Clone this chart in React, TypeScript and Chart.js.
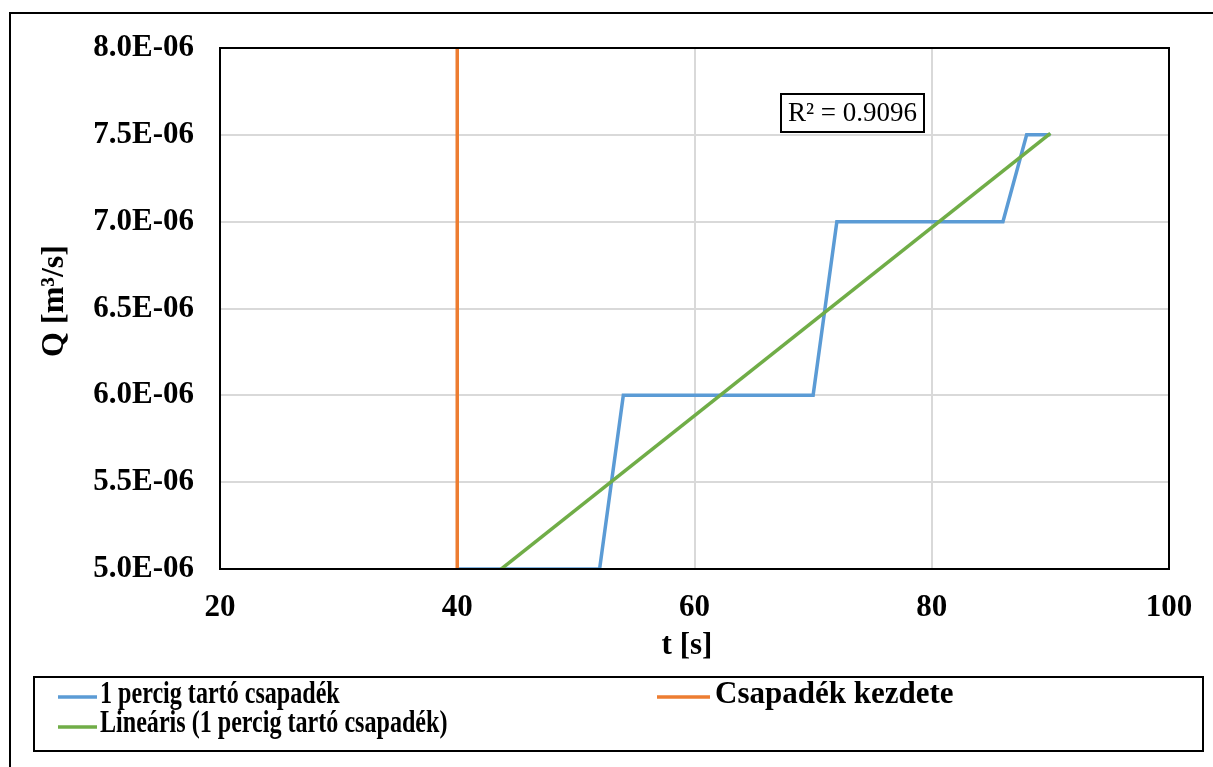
import { useEffect, useRef } from 'react';
import { Chart, registerables } from 'chart.js';

Chart.register(...registerables);

// Measured discharge during a one-minute rain event (sampled every 2 s)
const times = [40, 42, 44, 46, 48, 50, 52, 54, 56, 58, 60, 62, 64, 66, 68, 70, 72, 74, 76, 78, 80, 82, 84, 86, 88, 90];
const flow = [
  5.0e-6, 5.0e-6, 5.0e-6, 5.0e-6, 5.0e-6, 5.0e-6, 5.0e-6,
  6.0e-6, 6.0e-6, 6.0e-6, 6.0e-6, 6.0e-6, 6.0e-6, 6.0e-6, 6.0e-6, 6.0e-6,
  7.0e-6, 7.0e-6, 7.0e-6, 7.0e-6, 7.0e-6, 7.0e-6, 7.0e-6, 7.0e-6,
  7.5e-6, 7.5e-6,
];

// Vertical marker for the start of the rain
const onsetTimes = [40, 40];
const onsetFlow = [5.0e-6, 8.0e-6];

const xTicks = [20, 40, 60, 80, 100];
const yTicks = [5.0e-6, 5.5e-6, 6.0e-6, 6.5e-6, 7.0e-6, 7.5e-6, 8.0e-6];

const seriesNames = ['1 percig tartó csapadék', 'Csapadék kezdete', 'Lineáris (1 percig tartó csapadék)'];
const colors = ['#5B9BD5', '#ED7D31', '#70AD47'];
const r2Label = 'R² = 0.9096';
const xTitle = 't [s]';
const yTitle = 'Q [m³/s]';

const FONT = '"Liberation Serif", "Times New Roman", serif';

function linearFit(xs: number[], ys: number[]) {
  const n = xs.length;
  const mx = xs.reduce((a, b) => a + b, 0) / n;
  const my = ys.reduce((a, b) => a + b, 0) / n;
  let sxy = 0;
  let sxx = 0;
  for (let i = 0; i < n; i++) {
    sxy += (xs[i] - mx) * (ys[i] - my);
    sxx += (xs[i] - mx) * (xs[i] - mx);
  }
  const slope = sxy / sxx;
  return { slope, intercept: my - slope * mx };
}

function sciLabel(v: number) {
  const [m, e] = v.toExponential(1).split('e');
  const exp = parseInt(e, 10);
  const sign = exp < 0 ? '-' : '+';
  return `${m}E${sign}${String(Math.abs(exp)).padStart(2, '0')}`;
}

const fit = linearFit(times, flow);
const trendTimes = [times[0], times[times.length - 1]];

const framePlugin = {
  id: 'frame',
  beforeDraw(chart: any) {
    const { ctx, width, height } = chart;
    ctx.save();
    ctx.fillStyle = '#ffffff';
    ctx.fillRect(0, 0, width, height);
    ctx.restore();
  },
  afterDraw(chart: any) {
    const { ctx, chartArea } = chart;
    ctx.save();
    ctx.strokeStyle = '#000000';
    ctx.lineWidth = 2;
    // outer frame
    ctx.strokeRect(10, 13, 1230, 800);
    // plot area frame
    ctx.strokeRect(chartArea.left, chartArea.top, chartArea.right - chartArea.left, chartArea.bottom - chartArea.top);

    // axis titles
    ctx.fillStyle = '#000000';
    ctx.font = `bold 31px ${FONT}`;
    ctx.textAlign = 'center';
    ctx.textBaseline = 'alphabetic';
    ctx.fillText(xTitle, 687, 654);
    ctx.save();
    ctx.translate(63, 301);
    ctx.rotate(-Math.PI / 2);
    ctx.font = `bold 32px ${FONT}`;
    ctx.fillText(yTitle, 0, 0);
    ctx.restore();

    // R² label of the trend line
    ctx.lineWidth = 2;
    ctx.strokeRect(781, 94, 143, 38);
    ctx.font = `27px ${FONT}`;
    ctx.textAlign = 'center';
    ctx.textBaseline = 'middle';
    ctx.fillText(r2Label, 852.5, 114);

    // legend
    ctx.strokeRect(34, 677, 1169, 74);
    ctx.lineWidth = 3.5;
    const rows = [
      { i: 0, x0: 58, x1: 97, tx: 100, ly: 697, by: 703, sx: 0.777 },
      { i: 2, x0: 58, x1: 97, tx: 100, ly: 727, by: 732, sx: 0.777 },
      { i: 1, x0: 657, x1: 710, tx: 715, ly: 697, by: 703, sx: 1 },
    ];
    ctx.font = `bold 31px ${FONT}`;
    ctx.textAlign = 'left';
    ctx.textBaseline = 'alphabetic';
    for (const r of rows) {
      ctx.strokeStyle = colors[r.i];
      ctx.beginPath();
      ctx.moveTo(r.x0, r.ly);
      ctx.lineTo(r.x1, r.ly);
      ctx.stroke();
      ctx.save();
      ctx.translate(r.tx, r.by);
      ctx.scale(r.sx, 1);
      ctx.fillText(seriesNames[r.i], 0, 0);
      ctx.restore();
    }
    ctx.restore();
  },
};

export default function App() {
  const canvasRef = useRef<HTMLCanvasElement | null>(null);

  useEffect(() => {
    const canvas = canvasRef.current;
    if (!canvas) return;
    const tickFont = { family: FONT, size: 31, weight: 'bold' as const };
    const chart = new Chart(canvas, {
      type: 'line',
      data: {
        datasets: [
          {
            label: seriesNames[0],
            data: times.map((t, i) => ({ x: t, y: flow[i] })),
            borderColor: colors[0],
            borderWidth: 3.5,
            pointRadius: 0,
            tension: 0,
            order: 2,
          },
          {
            label: seriesNames[1],
            data: onsetTimes.map((t, i) => ({ x: t, y: onsetFlow[i] })),
            borderColor: colors[1],
            borderWidth: 3.5,
            pointRadius: 0,
            tension: 0,
            order: 1,
          },
          {
            label: seriesNames[2],
            data: trendTimes.map((t) => ({ x: t, y: fit.intercept + fit.slope * t })),
            borderColor: colors[2],
            borderWidth: 3.5,
            pointRadius: 0,
            tension: 0,
            clip: 0,
            order: 0,
          },
        ],
      },
      options: {
        responsive: false,
        animation: false,
        layout: { padding: { left: 0, top: 48, right: 44, bottom: 0 } },
        plugins: {
          legend: { display: false },
          tooltip: { enabled: false },
          title: { display: false },
        },
        scales: {
          x: {
            type: 'linear',
            min: 20,
            max: 100,
            afterBuildTicks: (scale: any) => {
              scale.ticks = xTicks.map((v) => ({ value: v }));
            },
            afterFit: (scale: any) => {
              scale.height = 198;
            },
            ticks: {
              font: tickFont,
              color: '#000000',
              padding: 20,
              maxRotation: 0,
            },
            grid: { color: '#d9d9d9', lineWidth: 2, drawTicks: false },
            border: { display: false },
          },
          y: {
            type: 'linear',
            min: 5.0e-6,
            max: 8.0e-6,
            afterBuildTicks: (scale: any) => {
              scale.ticks = yTicks.map((v) => ({ value: v }));
            },
            afterFit: (scale: any) => {
              scale.width = 220;
            },
            ticks: {
              font: tickFont,
              color: '#000000',
              padding: 26,
              callback: (v: any) => sciLabel(Number(v)),
            },
            grid: { color: '#d9d9d9', lineWidth: 2, drawTicks: false },
            border: { display: false },
          },
        },
      },
      plugins: [framePlugin],
    });
    return () => chart.destroy();
  }, []);

  return (
    <div style={{ position: 'fixed', left: 0, top: 0, width: 1213, height: 767, background: '#ffffff' }}>
      <canvas ref={canvasRef} width={1213} height={767} style={{ display: 'block', width: 1213, height: 767 }} />
    </div>
  );
}
